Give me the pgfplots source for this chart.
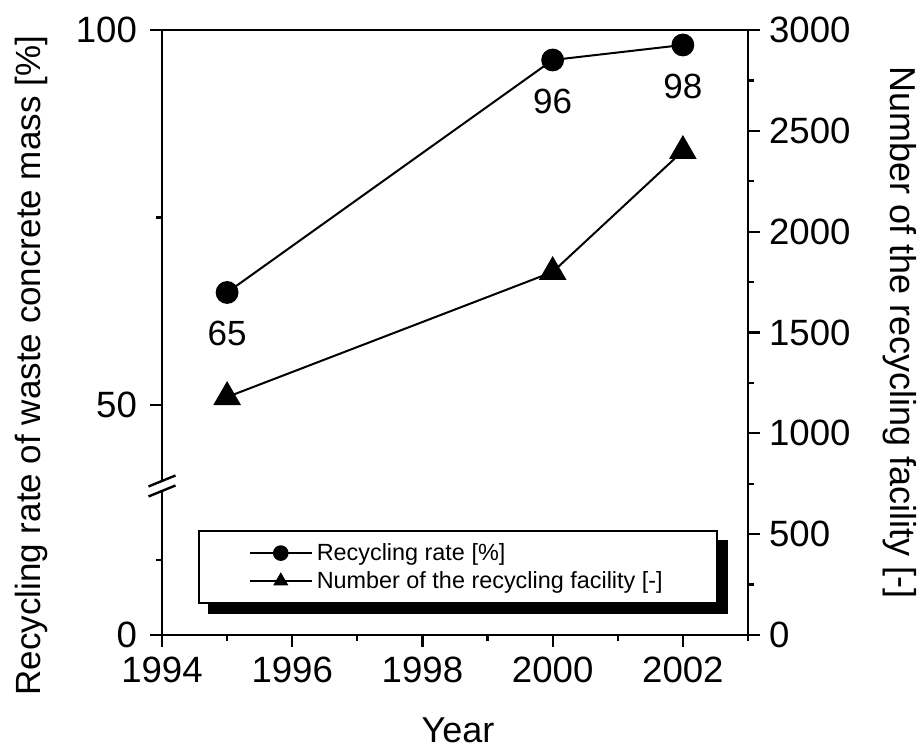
\documentclass[border=0pt]{standalone}
\usepackage{fontspec}
\setmainfont{Liberation Sans}
\usepackage{pgfplots}
\pgfplotsset{compat=1.18}
\usetikzlibrary{backgrounds}

\begin{document}
\begin{tikzpicture}
\useasboundingbox (-81pt,-56.5pt) rectangle (379.5pt,317.5pt);
\pgfplotsset{
 common/.style={
  at={(0,0)}, anchor=south west, scale only axis, width=293pt, height=302.5pt,
  xmin=1994, xmax=2003,
  axis line style={line width=1.2pt},
  tick style={line width=1.1pt, black},
  major tick length=6pt, minor tick length=3pt,
  tick align=outside,
  tick label style={font=\fontsize{18.3}{22}\selectfont},
  xticklabel style={yshift=-1.5pt},
  /pgf/number format/assume math mode=true,
  /pgf/number format/1000 sep={},
 }
}
\begin{axis}[common,
  xtick pos=bottom, ytick pos=left,
  yticklabel style={xshift=-3pt},
  ymin=19.33, ymax=100,
  ytick={19.33,50,100}, yticklabels={0,50,100},
  minor ytick={29.33,75},
  xtick={1994,1996,...,2002}, minor xtick={1995,1997,...,2003},
  xlabel={Year}, ylabel={Recycling rate of waste concrete mass [\%]},
  every axis x label/.style={at={(axis description cs:0.505,-0.157)}, anchor=center, font=\fontsize{18}{21}\selectfont},
  every axis y label/.style={at={(axis description cs:-0.222,0.445)}, rotate=90, anchor=center, font=\fontsize{17.5}{21}\selectfont},
]
\addplot[black, line width=1pt, mark=*, mark size=5.2pt,
  nodes near coords, point meta=explicit symbolic,
  nodes near coords style={anchor=center, yshift=-20.5pt, font=\fontsize{17.5}{20}\selectfont}]
  coordinates {(1995,65) [65] (2000,96) [96] (2002,98) [98]};
\coordinate (brk) at (axis cs:1994,39.2);
\end{axis}

\begin{axis}[common,
  axis x line=none, axis y line*=right,
  ymin=0, ymax=3000,
  ytick={0,500,...,3000}, minor ytick={250,750,...,2750},
  yticklabel style={xshift=1pt},
  ylabel={Number of the recycling facility [-]},
  every axis y label/.style={at={(axis description cs:1.259,0.5)}, rotate=-90, anchor=center, font=\fontsize{18}{21}\selectfont},
  legend style={name=leg, at={(axis description cs:0.0614,0.173)}, anchor=north west,
    draw=black, line width=0.8pt, fill=white,
    font=\fontsize{11.7}{13}\selectfont,
    inner xsep=25pt, inner ysep=4pt, row sep=0pt,
    cells={anchor=west}},
  legend image code/.code={\draw[mark repeat=2, mark phase=2, mark size=3.4pt, line width=1pt]
    plot coordinates {(0pt,0pt) (15.5pt,0pt) (31pt,0pt)};},
]
\addlegendimage{black, line width=1pt, mark=*}
\addlegendentry{Recycling rate [\%]}
\addplot[black, line width=1pt, mark=triangle*, mark size=7pt]
  coordinates {(1995,1180) (2000,1800) (2002,2400)};
\addlegendentry{Number of the recycling facility [-]}
\end{axis}

\begin{pgfonlayer}{background}
\fill[black] ([shift={(5pt,-5pt)}]leg.south west) rectangle ([shift={(5pt,-5pt)}]leg.north east);
\end{pgfonlayer}

\fill[white] ([shift={(-2.5pt,-3.5pt)}]brk) -- ([shift={(2.5pt,-1.5pt)}]brk) -- ([shift={(2.5pt,3.5pt)}]brk) -- ([shift={(-2.5pt,1.5pt)}]brk) -- cycle;
\draw[line width=1.2pt] ([shift={(-6.75pt,-0.25pt)}]brk) -- ([shift={(6.75pt,5.25pt)}]brk);
\draw[line width=1.2pt] ([shift={(-6.75pt,-5.25pt)}]brk) -- ([shift={(6.75pt,0.25pt)}]brk);
\end{tikzpicture}
\end{document}
